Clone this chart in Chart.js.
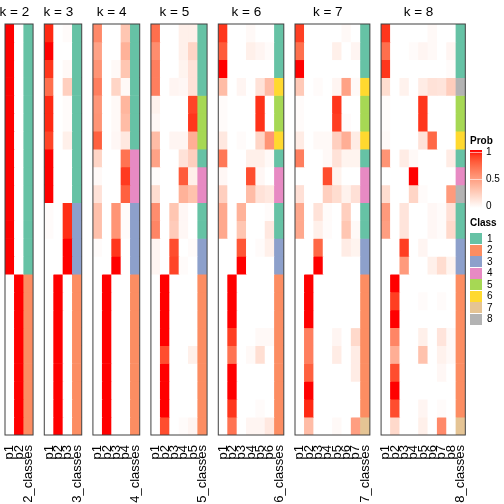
<!DOCTYPE html>
<html>
<head>
<meta charset="utf-8">
<script src="https://cdn.jsdelivr.net/npm/chart.js@4.4.1/dist/chart.umd.min.js"></script>
<style>
  body { margin: 0; width: 504px; height: 504px; position: relative; overflow: hidden; background: #fff;
         font-family: "Liberation Sans", Arial, sans-serif; }
  canvas { position: absolute; top: 0; }
  .lg { position: absolute; font-size: 10px; line-height: 12px; color: #000; white-space: nowrap; }
  .lg-title { font-weight: bold; }
  .swatch { position: absolute; width: 12px; height: 11px; }
</style>
</head>
<body>
<script>
// ---- data ----
const kValues = [2, 3, 4, 5, 6, 7, 8];
const classLabels = ['1', '2', '3', '4', '5', '6', '7', '8'];
const classColors = ['#66C2A5', '#FC8D62', '#8DA0CB', '#E78AC3', '#A6D854', '#FFD92F', '#E5C494', '#B3B3B3'];
const probTicks = [1, 0.5, 0];

const classesK2 = [1,1,1,1,1,1,1,1,1,1,1,1,1,1,2,2,2,2,2,2,2,2,2];
const classesK3 = [1,1,1,1,1,1,1,1,1,1,3,3,3,3,2,2,2,2,2,2,2,2,2];
const classesK4 = [1,1,1,1,1,1,1,4,4,4,3,3,3,3,2,2,2,2,2,2,2,2,2];
const classesK5 = [1,1,1,1,5,5,5,1,4,4,1,1,3,3,2,2,2,2,2,2,2,2,2];
const classesK6 = [1,1,1,6,5,5,6,1,4,4,1,1,3,3,2,2,2,2,2,2,2,2,2];
const classesK7 = [1,1,1,6,5,5,6,1,4,4,1,1,3,3,2,2,2,2,2,2,2,2,7];
const classesK8 = [1,1,1,8,5,5,6,1,4,8,1,1,3,3,2,2,2,2,2,2,2,2,7];

const probK2 = [
  [1,0],[1,0],[1,0],[1,0],[1,0],[1,0],[1,0],[1,0],[1,0],[1,0],[1,0],[1,0],[1,0],[1,0],
  [0,1],[0,1],[0,1],[0,1],[0,1],[0,1],[0,1],[0,1],[0,1]
];
const probK3 = [
  [0.95,0,0.02],[1,0,0],[0.92,0,0.03],[0.72,0,0.25],[0.95,0,0.02],[0.95,0,0.02],[0.88,0,0.08],
  [1,0,0],[1,0,0],[1,0,0],[0.02,0,0.94],[0.02,0,0.94],[0,0,1],[0,0,1],
  [0,1,0],[0,1,0],[0,1,0],[0,1,0],[0,1,0],[0,1,0],[0,1,0],[0,1,0],[0,1,0]
];
const probK4 = [
  [0.6,0,0,0.3],
  [0.48,0,0,0.4],
  [0.55,0,0.03,0.3],
  [0.65,0,0.22,0.03],
  [0.54,0,0.03,0.38],
  [0.55,0,0.03,0.35],
  [0.78,0,0.04,0.12],
  [0.22,0,0,0.7],
  [0.03,0,0,0.91],
  [0.15,0,0,0.78],
  [0.33,0,0.55,0.02],
  [0.33,0,0.55,0.02],
  [0.02,0,0.92,0],
  [0,0,1,0],
  [0,1,0,0],[0,1,0,0],[0,1,0,0],[0,1,0,0],[0,1,0,0],[0,1,0,0],[0,1,0,0],[0,1,0,0],[0,1,0,0]
];
const probK5 = [
  [0.72,0,0,0.08,0.08],
  [0.58,0,0,0.08,0.22],
  [0.65,0,0,0.06,0.15],
  [0.65,0,0.05,0.04,0.15],
  [0.07,0,0,0,0.88],
  [0.04,0,0,0,0.92],
  [0.35,0,0.05,0.05,0.42],
  [0.48,0,0,0.15,0.25],
  [0.02,0,0,0.8,0.08],
  [0.18,0,0,0.4,0.32],
  [0.58,0,0.3,0.04,0],
  [0.62,0,0.27,0.04,0],
  [0.05,0,0.85,0,0.02],
  [0.05,0,0.88,0.02,0],
  [0,1,0,0,0],[0,1,0,0,0],[0,1,0,0,0],[0,1,0,0,0],
  [0,0.85,0,0,0.08],
  [0,1,0,0,0],[0,1,0,0,0],[0,1,0,0,0],
  [0,0.85,0,0.02,0.05]
];
const probK6 = [
  [0.92,0,0,0.03,0,0],
  [0.8,0,0,0.08,0.05,0.02],
  [1,0,0,0,0,0],
  [0.35,0,0.05,0,0.15,0.35],
  [0.02,0,0,0,0.93,0],
  [0.02,0,0,0,0.93,0],
  [0.12,0,0.02,0,0.22,0.55],
  [0.68,0,0,0.08,0.08,0.03],
  [0.04,0,0,0.85,0.04,0],
  [0.25,0,0,0.35,0.15,0.12],
  [0.45,0,0.4,0,0,0.02],
  [0.45,0,0.3,0,0,0.12],
  [0,0,0.82,0,0.02,0.08],
  [0,0,1,0,0,0],
  [0,1,0,0,0,0],[0,1,0,0,0,0],[0,1,0,0,0,0],
  [0,0.9,0,0,0.03,0.03],
  [0,0.7,0,0.03,0.17,0],
  [0,1,0,0,0,0],[0,1,0,0,0,0],
  [0,0.92,0,0,0.02,0],
  [0,0.7,0,0.05,0.05,0.12]
];
const probK7 = [
  [0.9,0,0,0,0,0.03,0],
  [0.72,0,0,0,0.08,0,0.05],
  [1,0,0,0,0,0,0],
  [0.28,0,0.02,0,0.05,0.48,0.03],
  [0.02,0,0,0,0.92,0,0],
  [0.02,0,0,0,0.9,0.02,0],
  [0.1,0,0.03,0.03,0.25,0.42,0.1],
  [0.65,0,0,0.03,0.15,0.06,0.06],
  [0,0,0,0.85,0.06,0,0],
  [0.16,0,0,0.25,0.18,0.07,0.16],
  [0.45,0,0.15,0.02,0,0.25,0],
  [0.45,0,0.08,0.02,0,0.3,0.03],
  [0,0,0.75,0,0,0.1,0.06],
  [0,0,1,0,0,0,0],
  [0,1,0,0,0,0,0],[0,1,0,0,0,0,0],[0,1,0,0,0,0,0],
  [0,0.65,0,0,0.05,0,0.2],
  [0,0.65,0,0,0.1,0,0.1],
  [0,0.78,0,0,0,0,0.1],
  [0,1,0,0,0,0,0],
  [0,0.95,0,0,0,0,0],
  [0,0.35,0,0,0.03,0,0.5]
];
const probK8 = [
  [0.92,0,0,0,0,0.03,0,0],
  [0.72,0,0,0.02,0.05,0.03,0,0.05],
  [0.92,0,0,0,0,0,0,0.02],
  [0.18,0,0.07,0,0.1,0.15,0.14,0.26],
  [0.02,0,0,0,0.92,0,0,0],
  [0.02,0,0,0,0.92,0,0,0],
  [0.03,0,0,0,0.15,0.75,0,0],
  [0.55,0,0.1,0.03,0,0,0,0.1],
  [0,0,0,1,0,0,0,0],
  [0.18,0,0,0.22,0.02,0,0,0.52],
  [0.52,0,0.14,0,0,0.04,0.02,0.16],
  [0.5,0,0.14,0,0,0.04,0.02,0.2],
  [0,0,0.9,0,0.05,0,0,0],
  [0,0,0.52,0,0,0.08,0.18,0.06],
  [0,1,0,0,0,0,0,0],
  [0,0.9,0,0,0.02,0,0.02,0],
  [0,1,0,0,0,0,0,0],
  [0,0.62,0,0,0.08,0,0.14,0.03],
  [0,0.42,0,0,0.32,0,0.07,0.03],
  [0,0.85,0,0,0,0,0.04,0],
  [0,1,0,0,0,0,0,0],
  [0,0.85,0,0,0.05,0,0.02,0],
  [0,0.2,0,0,0.08,0,0.6,0]
];

const panels = [
  { k: 2, probs: probK2, classes: classesK2 },
  { k: 3, probs: probK3, classes: classesK3 },
  { k: 4, probs: probK4, classes: classesK4 },
  { k: 5, probs: probK5, classes: classesK5 },
  { k: 6, probs: probK6, classes: classesK6 },
  { k: 7, probs: probK7, classes: classesK7 },
  { k: 8, probs: probK8, classes: classesK8 }
];

// ---- white -> red ramp, interpolated in Lab ----
const WP = [0.95047, 1, 1.08883];
const toLin = c => { c /= 255; return c <= 0.04045 ? c / 12.92 : Math.pow((c + 0.055) / 1.055, 2.4); };
const fromLin = c => { c = Math.min(1, Math.max(0, c)); return 255 * (c <= 0.0031308 ? 12.92 * c : 1.055 * Math.pow(c, 1 / 2.4) - 0.055); };

function rgbToLab([r, g, b]) {
  const R = toLin(r), G = toLin(g), B = toLin(b);
  const f = t => t > 0.008856 ? Math.cbrt(t) : 7.787 * t + 16 / 116;
  const fx = f((0.4124 * R + 0.3576 * G + 0.1805 * B) / WP[0]);
  const fy = f((0.2126 * R + 0.7152 * G + 0.0722 * B) / WP[1]);
  const fz = f((0.0193 * R + 0.1192 * G + 0.9505 * B) / WP[2]);
  return [116 * fy - 16, 500 * (fx - fy), 200 * (fy - fz)];
}

function labToCss([L, a, b]) {
  const fy = (L + 16) / 116, fx = fy + a / 500, fz = fy - b / 200;
  const inv = t => t > 0.206893 ? t * t * t : (t - 16 / 116) / 7.787;
  const x = inv(fx) * WP[0], y = inv(fy) * WP[1], z = inv(fz) * WP[2];
  const R = 3.2406 * x - 1.5372 * y - 0.4986 * z;
  const G = -0.9689 * x + 1.8758 * y + 0.0415 * z;
  const B = 0.0557 * x - 0.2040 * y + 1.0570 * z;
  return `rgb(${Math.round(fromLin(R))},${Math.round(fromLin(G))},${Math.round(fromLin(B))})`;
}

const LAB_LO = rgbToLab([255, 255, 255]);
const LAB_HI = rgbToLab([255, 0, 0]);
function probColor(p) {
  return labToCss(LAB_LO.map((v, i) => v + (LAB_HI[i] - v) * p));
}

// ---- panel layout ----
const FIRST_LEFT = 5;
const COL_W = 9.36;
const GAP = 11.2;
const AREA_TOP = 24;
const AREA_BOTTOM = 435;
const H = 504;
const MARGIN = 8;

Chart.defaults.font.family = '"Liberation Sans", Arial, sans-serif';
Chart.defaults.color = '#000';

const panelFrame = {
  id: 'panelFrame',
  afterDatasetsDraw(chart) {
    const { ctx, chartArea: a } = chart;
    ctx.save();
    ctx.strokeStyle = '#404040';
    ctx.lineWidth = 1;
    ctx.strokeRect(a.left, a.top, a.right - a.left, a.bottom - a.top);
    ctx.restore();
  }
};

// title centred over the probability columns only (not the class column)
const panelTitle = {
  id: 'panelTitle',
  afterDraw(chart, args, opts) {
    const { ctx, chartArea: a } = chart;
    const w = (a.right - a.left) * opts.k / (opts.k + 1);
    ctx.save();
    ctx.font = '13.5px "Liberation Sans", Arial, sans-serif';
    ctx.fillStyle = '#000';
    ctx.textAlign = 'center';
    ctx.textBaseline = 'alphabetic';
    ctx.fillText(opts.text, a.left + w / 2, 16);
    ctx.restore();
  }
};

let left = FIRST_LEFT;
panels.forEach(({ k, probs, classes }) => {
  const width = (k + 1) * COL_W;
  const cLeft = Math.floor(left) - MARGIN;
  const cWidth = Math.ceil(left + width) + MARGIN - cLeft;

  const canvas = document.createElement('canvas');
  canvas.width = cWidth;
  canvas.height = H;
  canvas.style.left = cLeft + 'px';
  document.body.appendChild(canvas);

  const labels = probs[0].map((_, i) => 'p' + (i + 1)).concat(k + '_classes');
  const datasets = probs.map((row, r) => ({
    data: labels.map(() => [r, r + 1]),
    backgroundColor: row.map(probColor).concat(classColors[classes[r] - 1]),
    borderWidth: 0,
    barPercentage: 1,
    categoryPercentage: 1,
    grouped: false
  }));

  new Chart(canvas, {
    type: 'bar',
    data: { labels, datasets },
    options: {
      responsive: false,
      animation: false,
      devicePixelRatio: 1,
      layout: {
        autoPadding: false,
        padding: { left: left - cLeft, right: cLeft + cWidth - (left + width), top: AREA_TOP, bottom: 0 }
      },
      plugins: {
        legend: { display: false },
        tooltip: { enabled: false },
        panelTitle: { text: 'k = ' + k, k }
      },
      scales: {
        x: {
          type: 'category',
          grid: { display: false },
          border: { display: false },
          ticks: { autoSkip: false, minRotation: 90, maxRotation: 90, padding: 2, font: { size: 13 } },
          afterFit: s => {
            s.height = H - AREA_BOTTOM;
            s.paddingLeft = 0;
            s.paddingRight = 0;
          }
        },
        y: { type: 'linear', min: 0, max: probs.length, reverse: true, display: false }
      }
    },
    plugins: [panelFrame, panelTitle]
  });

  left += width + GAP;
});

// ---- legends (Prob colour bar + Class swatches) ----
function addEl(cls, text, style) {
  const el = document.createElement('div');
  el.className = cls;
  if (text !== null) el.textContent = text;
  Object.assign(el.style, style);
  document.body.appendChild(el);
  return el;
}

addEl('lg lg-title', 'Prob', { left: '470px', top: '135px' });
const barTop = 150, barH = 58;
const stops = [];
for (let i = 0; i <= 10; i++) stops.push(probColor(1 - i / 10) + ' ' + (i * 10) + '%');
addEl('swatch', null, { left: '470px', top: barTop + 'px', height: barH + 'px', background: 'linear-gradient(' + stops.join(',') + ')' });
probTicks.forEach(v => {
  const y = barTop + 2 + (1 - v) * (barH - 4);
  addEl('lg', String(v), { left: '486px', top: (y - 6) + 'px' });
  if (v > 0) addEl('swatch', null, { left: '470px', top: Math.round(y) + 'px', height: '1px', background: 'rgba(255,255,255,0.6)' });
});

addEl('lg lg-title', 'Class', { left: '470px', top: '217px' });
classLabels.forEach((lab, i) => {
  const y = 233 + i * 11.5;
  addEl('swatch', null, { left: '470px', top: y + 'px', background: classColors[i] });
  addEl('lg', lab, { left: '487px', top: (y - 0.5) + 'px' });
});
</script>
</body>
</html>
